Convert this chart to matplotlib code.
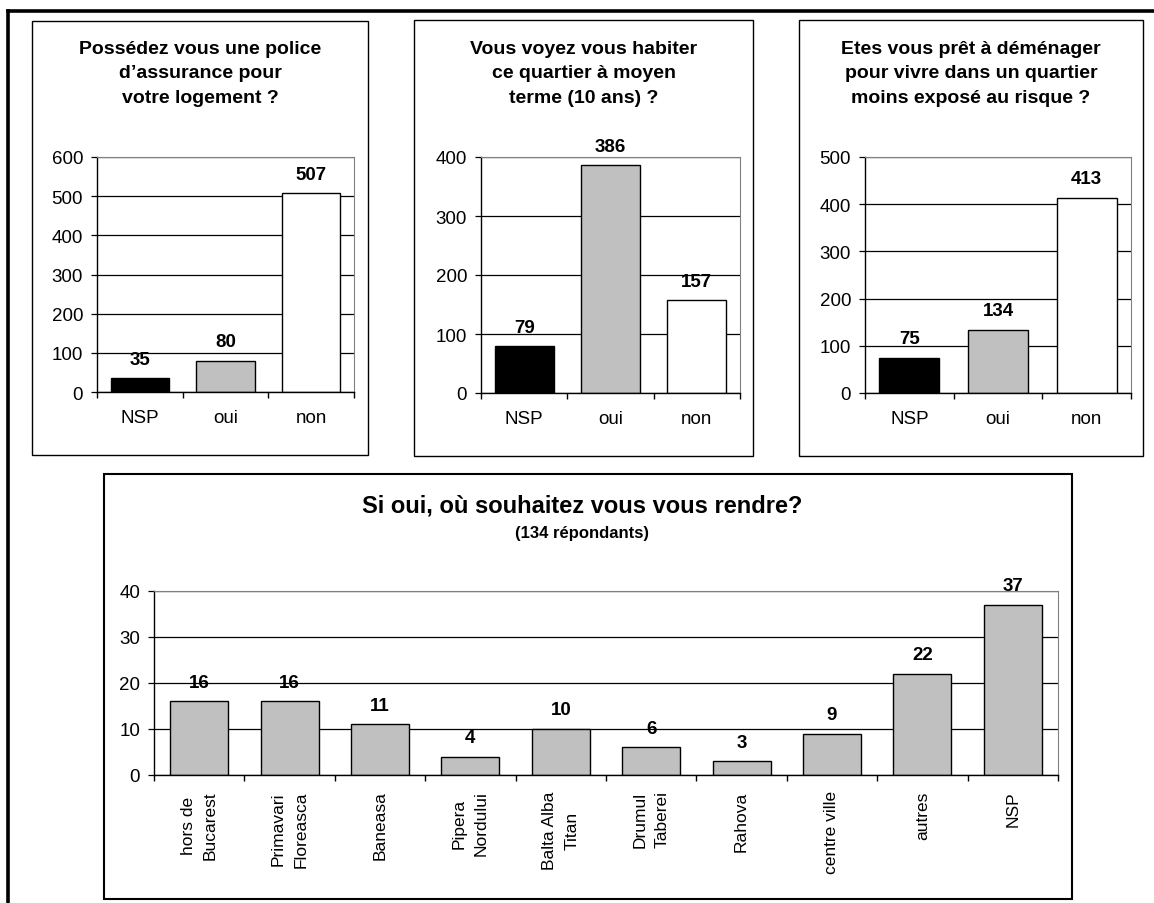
import matplotlib.pyplot as plt
from matplotlib.patches import Rectangle
from matplotlib.lines import Line2D

W, H = 1154, 904

plt.rcParams['font.family'] = ['Liberation Sans', 'DejaVu Sans']

# donnees des trois questions
reponses = ['NSP', 'oui', 'non']
assurance = [35, 80, 507]
habiter = [79, 386, 157]
demenager = [75, 134, 413]
couleurs = ['black', '#c0c0c0', 'white']

# destinations (134 repondants)
quartiers = ['hors de\nBucarest', 'Primavari\nFloreasca', 'Baneasa', 'Pipera\nNordului',
             'Balta Alba\nTitan', 'Drumul\nTaberei', 'Rahova', 'centre ville', 'autres', 'NSP']
destinations = [16, 16, 11, 4, 10, 6, 3, 9, 22, 37]

fig = plt.figure(figsize=(W / 100, H / 100), dpi=100)


def boite(l, t, r, b):
    # pixels (haut-gauche) -> fraction de figure
    return [l / W, 1 - b / H, (r - l) / W, (b - t) / H]


def cadre(l, t, r, b, lw):
    x, y, w, h = boite(l, t, r, b)
    fig.add_artist(Rectangle((x, y), w, h, transform=fig.transFigure, fill=False,
                             edgecolor='black', linewidth=lw))


def style_axe(ax, n, ymax, pas):
    ax.set_xlim(-0.5, n - 0.5)
    ax.set_ylim(0, ymax)
    ax.set_yticks(range(0, ymax + 1, pas))
    ax.yaxis.grid(True, color='black', linewidth=0.9)
    ax.set_axisbelow(True)
    ax.spines['top'].set_color('#808080')
    ax.spines['right'].set_color('#808080')
    ax.spines['left'].set_linewidth(1.0)
    ax.spines['bottom'].set_linewidth(1.0)
    ax.set_xticks([i - 0.5 for i in range(n + 1)], minor=True)
    ax.tick_params(axis='x', which='minor', length=4.5, direction='out', width=1)
    ax.tick_params(axis='y', length=4, width=0.9, labelsize=13.5)


def barres(ax, valeurs, cols, largeur):
    ax.bar(range(len(valeurs)), valeurs, width=largeur, color=cols,
           edgecolor='black', linewidth=1.0)
    for i, v in enumerate(valeurs):
        ax.annotate(str(v), (i, v), xytext=(0, 10.5), textcoords='offset points',
                    ha='center', va='baseline', fontsize=13.5, fontweight='bold')


# cadre general
fig.add_artist(Line2D([8 / W, 8 / W], [0, 1 - 12 / H], transform=fig.transFigure,
                      color='black', linewidth=2.6))
fig.add_artist(Line2D([8 / W, 1], [1 - 12 / H, 1 - 12 / H], transform=fig.transFigure,
                      color='black', linewidth=2.6))

# trois petits graphiques
petits = [
    (assurance, 600, (32, 22, 368, 456), (97, 158, 354, 393),
     "Possédez vous une police\nd’assurance pour\nvotre logement ?"),
    (habiter, 400, (414, 21, 753, 457), (481, 158, 740, 394),
     "Vous voyez vous habiter\nce quartier à moyen\nterme (10 ans) ?"),
    (demenager, 500, (799, 21, 1143, 457), (865, 158, 1131, 394),
     "Etes vous prêt à déménager\npour vivre dans un quartier\nmoins exposé au risque ?"),
]

for valeurs, ymax, fr, pos, titre in petits:
    cadre(*fr, lw=1.0)
    ax = fig.add_axes(boite(*pos))
    barres(ax, valeurs, couleurs, 0.68)
    style_axe(ax, 3, ymax, 100)
    ax.set_xticks(range(3))
    ax.set_xticklabels(reponses)
    ax.tick_params(axis='x', which='major', length=0, pad=12, labelsize=13.5)
    ax.tick_params(axis='y', pad=6)
    fig.text((fr[0] + fr[2]) / 2 / W, 1 - 74 / H, titre, ha='center', va='center',
             fontsize=14, fontweight='bold', linespacing=1.58)

# grand graphique du bas
cadre(104, 475, 1072, 900, lw=1.5)
ax4 = fig.add_axes(boite(154, 592, 1058, 776))
barres(ax4, destinations, '#c0c0c0', 0.64)
style_axe(ax4, len(destinations), 40, 10)
ax4.set_xticks(range(len(destinations)))
ax4.set_xticklabels(quartiers, rotation=90)
for lab in ax4.get_xticklabels():
    lab.set_linespacing(1.6)
ax4.tick_params(axis='x', which='major', length=0, pad=11, labelsize=12.5)
ax4.tick_params(axis='y', pad=6)

fig.text(582 / W, 1 - 506 / H, "Si oui, où souhaitez vous vous rendre?", ha='center',
         va='center', fontsize=17, fontweight='bold')
fig.text(582 / W, 1 - 534 / H, "(134 répondants)", ha='center', va='center',
         fontsize=12, fontweight='bold')

fig.savefig('out.png', dpi=100)
